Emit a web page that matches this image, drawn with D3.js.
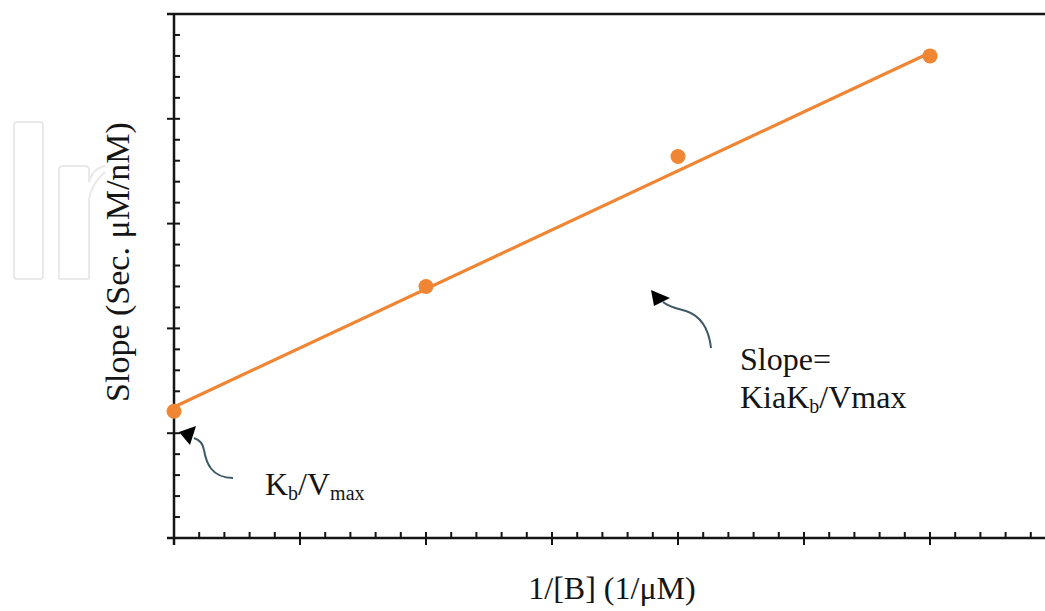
<!DOCTYPE html>
<html><head><meta charset="utf-8">
<script src="https://cdn.jsdelivr.net/npm/d3@7"></script>
<style>html,body{margin:0;padding:0;background:#fff;overflow:hidden}svg{display:block}</style>
</head><body>
<script>
// Data
const xValues = [0, 2, 4, 6];
const yValues = [1.21, 2.40, 3.64, 4.60];
const fitX = [0, 6];
const fitY = [1.25, 4.63];
const xLabel = "1/[B] (1/\u03BCM)";
const yLabel = "Slope (Sec. \u03BCM/nM)";

const W = 1045, H = 611;
const svg = d3.select("body").append("svg").attr("width", W).attr("height", H);

const x = d3.scaleLinear().domain([0, 7]).range([174, 174 + 7 * 126]);
const y = d3.scaleLinear().domain([0, 5]).range([538, 14]);

const font = "'Liberation Serif', 'Times New Roman', serif";
const ink = "#151515";
const orange = "#f08533";

// watermark (faint)
const wm = svg.append("g").attr("fill", "none").attr("stroke", "#e9e9e9").attr("stroke-width", 2);
wm.append("rect").attr("x", 14).attr("y", 122).attr("width", 29).attr("height", 157).attr("rx", 3);
wm.append("path").attr("d", "M59,279 L59,170 Q59,166 63,166 L85,166 Q89,166 89,170 L89,182 Q93,168 105,166 M89,279 L89,200 Q91,184 105,172 M59,279 L89,279");

// x axis
const xMajor = d3.range(0, 7.001, 1);
const xMinor = d3.range(0, 7.001, 0.2).filter(v => Math.abs(v - Math.round(v)) > 1e-6);
const gx = svg.append("g").attr("stroke", ink);
gx.append("line").attr("x1", 167).attr("x2", W).attr("y1", y(0)).attr("y2", y(0)).attr("stroke-width", 2.5);
gx.selectAll(".xM").data(xMajor).join("line")
  .attr("x1", d => x(d)).attr("x2", d => x(d)).attr("y1", y(0) - 6).attr("y2", y(0) + 7).attr("stroke-width", 2);
gx.selectAll(".xm").data(xMinor).join("line")
  .attr("x1", d => x(d)).attr("x2", d => x(d)).attr("y1", y(0) - 6).attr("y2", y(0)).attr("stroke-width", 2);

// y axis
const yMajor = d3.range(0, 5.001, 1);
const yMinor = d3.range(0, 5.001, 0.2).filter(v => Math.abs(v - Math.round(v)) > 1e-6);
const gy = svg.append("g").attr("stroke", ink);
gy.append("line").attr("x1", x(0)).attr("x2", x(0)).attr("y1", y(5)).attr("y2", y(0) + 7).attr("stroke-width", 2.5);
gy.selectAll(".yM").data(yMajor).join("line")
  .attr("x1", x(0) - 7).attr("x2", x(0) + 6).attr("y1", d => y(d)).attr("y2", d => y(d)).attr("stroke-width", 2);
gy.selectAll(".ym").data(yMinor).join("line")
  .attr("x1", x(0)).attr("x2", x(0) + 6).attr("y1", d => y(d)).attr("y2", d => y(d)).attr("stroke-width", 2);
// top frame line
gy.append("line").attr("x1", x(0) - 7).attr("x2", W).attr("y1", y(5)).attr("y2", y(5)).attr("stroke-width", 2.5);

// fit line
svg.append("path")
  .attr("d", d3.line().x(d => x(d[0])).y(d => y(d[1]))(fitX.map((v, i) => [v, fitY[i]])))
  .attr("fill", "none").attr("stroke", orange).attr("stroke-width", 3.2);

// points
svg.selectAll(".pt").data(xValues.map((v, i) => [v, yValues[i]])).join("circle")
  .attr("cx", d => x(d[0])).attr("cy", d => y(d[1])).attr("r", 7.5).attr("fill", orange);

// axis labels
svg.append("text").attr("x", 612).attr("y", 599).attr("text-anchor", "middle")
  .attr("font-family", font).attr("font-size", 32).attr("fill", ink).text(xLabel);
svg.append("text").attr("transform", "translate(129,262) rotate(-90)").attr("text-anchor", "middle")
  .attr("font-family", font).attr("font-size", 34).attr("fill", ink).text(yLabel);

// annotation arrows
const arrowStroke = "#3f5a66";
svg.append("path").attr("d", "M233,478 C211,478 206,462 204,450 C203,443 200,440 194,438")
  .attr("fill", "none").attr("stroke", arrowStroke).attr("stroke-width", 2);
svg.append("path").attr("d", "M179,432 L196,426 L190,445 Z").attr("fill", "#000");

svg.append("path").attr("d", "M711,348 C709,330 701,316 686,311 C675,308 669,307 663,302")
  .attr("fill", "none").attr("stroke", arrowStroke).attr("stroke-width", 2);
svg.append("path").attr("d", "M651,290 L670,298 L654,306 Z").attr("fill", "#000");

// annotation texts
const t1 = svg.append("text").attr("x", 265).attr("y", 495).attr("font-family", font).attr("font-size", 32).attr("fill", ink);
t1.append("tspan").text("K");
t1.append("tspan").attr("font-size", 20).attr("dy", 5).text("b");
t1.append("tspan").attr("dy", -5).text("/V");
t1.append("tspan").attr("font-size", 20).attr("dy", 5).text("max");

svg.append("text").attr("x", 740).attr("y", 370).attr("font-family", font).attr("font-size", 32).attr("fill", ink).text("Slope=");
const t2 = svg.append("text").attr("x", 740).attr("y", 408).attr("font-family", font).attr("font-size", 32).attr("fill", ink);
t2.append("tspan").text("KiaK");
t2.append("tspan").attr("font-size", 20).attr("dy", 5).text("b");
t2.append("tspan").attr("dy", -5).text("/Vmax");
</script>
</body></html>
